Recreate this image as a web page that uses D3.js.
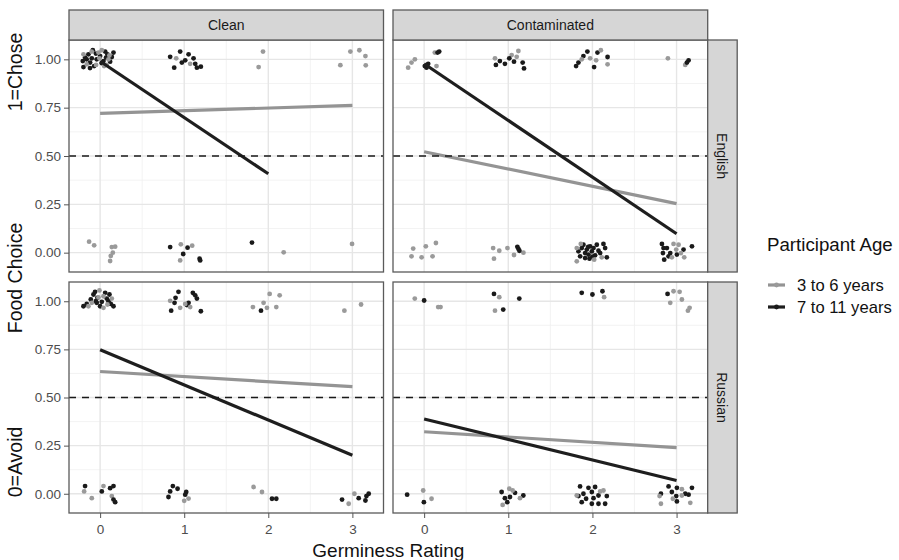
<!DOCTYPE html>
<html><head><meta charset="utf-8">
<script src="https://cdn.jsdelivr.net/npm/d3@7"></script>
<style>body{margin:0;background:#fff}svg{display:block;font-family:"Liberation Sans",Arial,sans-serif}</style>
</head><body><svg id="c" width="899" height="560"></svg>
<script>
// ---- data ----
const conditions = ["Clean", "Contaminated"];
const languages = ["English", "Russian"];
const ageGroups = ["3 to 6 years", "7 to 11 years"];
const xTicks = [0, 1, 2, 3];
const yTicks = [0, 0.25, 0.5, 0.75, 1];
const yTickLabels = ["0.00", "0.25", "0.50", "0.75", "1.00"];
const chanceLevel = 0.5;

// points: [jittered germiness rating, jittered food choice, age group index]
const englishCleanPts = [
 [-0.206,0.991,1],[-0.198,0.960,1],[-0.179,1.009,1],[-0.139,1.026,1],[-0.119,0.983,1],[-0.099,1.005,1],[-0.087,1.047,1],[-0.071,0.965,1],[-0.040,1.0,1],[0.0,1.017,1],[0.040,0.991,1],[0.071,1.009,1],[0.087,1.026,1],[0.119,0.988,1],[0.139,1.012,1],[0.159,1.035,1],[-0.16,1.0,1],[-0.05,1.03,1],[0.06,1.04,1],[0.02,0.98,1],[-0.12,0.955,1],
 [-0.198,1.026,0],[-0.159,0.974,0],[-0.048,0.971,0],[-0.020,1.035,0],[0.020,1.047,0],[0.048,0.965,0],[0.079,0.971,0],[-0.008,1.005,0],[0.099,1.0,0],[-0.10,1.04,0],[0.11,1.02,0],
 [0.833,1.013,1],[0.881,0.957,1],[0.952,1.040,1],[0.972,0.983,1],[1.012,0.995,1],[1.052,1.026,1],[1.111,1.005,1],[1.131,0.977,1],[1.151,0.957,1],[1.198,0.962,1],[0.905,1.005,0],[1.071,0.977,0],
 [1.937,1.04,0],[1.885,0.960,0],
 [2.976,1.04,0],[3.083,1.047,0],[3.155,1.017,0],[2.857,0.97,0],[3.159,0.969,0],
 [-0.131,0.057,0],[-0.071,0.038,0],[0.139,0.029,0],[0.179,0.031,0],[0.151,0.0,0],[0.127,-0.017,0],[0.119,-0.043,0],
 [0.833,0.029,1],[0.960,0.043,0],[1.04,0.026,1],[1.095,0.036,0],[0.988,-0.007,1],[0.952,-0.04,0],[1.183,-0.031,1],[1.19,-0.04,1],
 [1.806,0.052,1],[2.183,0.002,0],
 [2.996,0.045,0]
];
const englishContamPts = [
 [-0.19,0.957,0],[-0.15,0.983,0],[-0.11,1.0,0],[0.127,1.035,0],[0.147,0.965,0],
 [0.008,0.965,1],[0.028,0.957,1],[0.048,0.977,1],[0.179,1.04,1],[0.16,1.035,1],
 [0.842,1.005,0],[1.04,1.022,0],[1.1,1.013,0],[1.12,1.043,0],
 [0.853,0.971,1],[0.9,0.991,1],[0.96,0.977,1],[1.012,1.005,1],[1.068,0.988,1],[1.171,0.983,1],[1.187,0.953,1],
 [1.806,0.965,1],[1.834,0.983,1],[1.893,1.017,1],[1.94,1.04,1],[2.02,0.96,1],[2.06,1.035,1],[2.18,1.012,1],
 [1.973,1.005,0],[2.044,0.995,0],[2.1,1.047,0],[2.18,0.974,0],[1.873,1.0,0],
 [2.897,1.005,0],[3.103,0.971,0],[3.143,0.995,1],[3.123,0.983,1],
 [-0.13,0.021,0],[-0.15,-0.019,0],[-0.03,-0.024,0],[0.02,0.033,0],[0.1,-0.019,0],[0.14,0.05,0],
 [0.82,0.024,0],[0.83,-0.031,0],[0.893,0.01,0],[0.99,0.024,0],[1.068,-0.012,0],[1.18,0.0,0],[1.108,0.03,1],[1.132,0.01,1],[1.12,0.02,1],
 [1.834,0.007,1],[1.854,-0.019,1],[1.873,0.024,1],[1.893,0.041,1],[1.913,-0.002,1],[1.933,0.016,1],[1.953,-0.010,1],[1.973,0.033,1],[1.993,0.007,1],[2.013,0.024,1],[2.032,-0.014,1],[2.052,0.041,1],[2.072,0.010,1],[2.092,-0.002,1],[2.131,0.045,1],[2.151,0.024,1],[2.171,-0.024,1],[1.965,-0.031,1],[1.913,-0.028,1],[1.95,0.03,1],[2.0,-0.02,1],
 [1.814,-0.045,0],[1.862,0.045,0],[2.021,-0.036,0],[2.111,-0.024,0],[1.814,0.024,0],
 [2.826,0.045,1],[2.845,0.024,1],[2.838,-0.002,1],[2.853,-0.036,1],[2.885,0.024,1],[2.925,-0.002,1],[2.905,-0.019,1],[3.004,-0.010,1],[3.183,0.033,1],[3.083,0.016,1],
 [2.964,0.045,0],[2.996,0.016,0],[2.944,-0.024,0],[3.052,-0.002,0],[3.091,-0.024,0],[3.024,0.041,0]
];
const russianCleanPts = [
 [-0.198,0.974,1],[-0.159,0.986,1],[-0.111,1.009,1],[-0.079,1.035,1],[-0.060,1.049,1],[-0.032,1.018,1],[0.0,0.974,1],[0.020,0.997,1],[0.060,1.044,1],[0.079,1.014,1],[0.111,1.035,1],[0.127,0.986,1],[0.159,0.974,1],[-0.040,0.992,1],[-0.05,1.0,1],[0.1,1.0,1],
 [-0.139,0.974,0],[-0.099,0.992,0],[-0.008,1.056,0],[0.040,0.966,0],[0.087,0.983,0],[0.040,1.026,0],[0.139,1.014,0],[-0.02,1.02,0],
 [0.845,0.951,1],[0.885,0.992,1],[0.897,1.018,1],[0.932,1.049,1],[1.032,0.980,1],[1.052,0.992,1],[1.103,1.044,1],[1.151,1.014,1],[1.131,1.031,1],[1.198,0.948,1],
 [0.833,1.002,0],[0.952,0.966,0],[1.071,0.97,0],[1.012,0.986,0],
 [1.817,0.97,0],[1.944,0.992,0],[1.984,0.966,0],[2.016,1.038,0],[2.135,1.031,0],[2.095,0.97,0],[1.913,0.951,1],
 [2.905,0.951,0],[3.103,0.983,0],
 [-0.179,0.040,1],[-0.19,0.012,0],[-0.099,-0.023,0],[0.04,0.040,0],[0.02,0.012,1],[0.119,0.029,1],[0.159,0.040,1],[0.139,-0.012,0],[0.159,-0.03,1],[0.179,-0.044,1],
 [0.865,0.04,1],[0.833,0.012,1],[0.813,-0.017,1],[0.921,0.026,1],[1.024,0.009,1],[1.012,-0.005,1],[1.0,-0.037,0],[1.052,-0.025,0],
 [1.825,0.035,0],[1.925,0.009,0],[2.044,-0.026,1],[2.095,-0.026,1],
 [2.877,-0.03,1],[2.956,-0.052,0],[3.024,0.0,0],[3.075,-0.023,1],[3.155,-0.035,1],[3.194,0.0,1],[3.167,-0.012,1]
];
const russianContamPts = [
 [-0.111,1.014,0],[0.0,1.004,1],[0.167,0.97,0],[0.195,0.97,0],
 [0.83,1.038,1],[0.893,1.021,0],[0.842,0.951,0],[0.94,0.957,1],[1.131,1.014,1],
 [1.873,1.044,1],[2.0,1.035,1],[2.119,1.052,1],[2.139,1.021,0],
 [2.893,1.038,1],[2.964,1.052,0],[3.036,1.049,0],[2.925,0.992,0],[3.063,1.009,0],[3.155,0.966,0],[3.135,0.951,0],
 [-0.202,-0.005,1],[-0.011,0.017,0],[-0.003,-0.044,1],[0.088,-0.026,0],
 [0.921,0.009,1],[0.96,-0.023,1],[0.988,-0.044,1],[1.08,0.005,1],[1.179,-0.009,1],[1.02,-0.017,1],[0.933,-0.058,0],[1.012,0.026,0],[1.052,0.017,0],[1.139,-0.023,0],
 [1.853,0.038,1],[1.953,0.031,1],[2.032,0.035,1],[1.893,0.0,1],[1.834,-0.012,1],[1.993,0.009,1],[2.013,-0.023,1],[2.072,-0.009,1],[2.171,-0.012,1],[1.873,-0.044,1],[1.993,-0.052,1],[2.072,-0.052,1],[2.151,-0.052,1],[1.925,-0.026,1],
 [2.131,0.017,0],[1.814,-0.009,0],[2.092,0.012,0],
 [2.905,0.038,1],[3.004,0.031,1],[3.183,0.031,1],[2.814,0.0,1],[2.944,0.009,1],[2.996,-0.012,1],[3.103,0.0,1],[3.143,-0.005,1],[3.004,-0.040,1],
 [3.063,0.024,0],[2.798,-0.012,0],[2.814,-0.052,0],[2.956,-0.026,0],[3.163,-0.047,0],[3.063,-0.009,0]
];
// fitted lines per age group: [x start, y start, x end, y end]
const englishCleanFit = [[0,0.72,3,0.762],[0,0.99,2,0.408]];
const englishContamFit = [[0,0.522,3,0.254],[0,0.977,3,0.098]];
const russianCleanFit = [[0,0.635,3,0.556],[0,0.748,3,0.2]];
const russianContamFit = [[0,0.322,3,0.24],[0,0.388,3,0.069]];

const panels = [
 {row:0,col:0,pts:englishCleanPts,fit:englishCleanFit},
 {row:0,col:1,pts:englishContamPts,fit:englishContamFit},
 {row:1,col:0,pts:russianCleanPts,fit:russianCleanFit},
 {row:1,col:1,pts:russianContamPts,fit:russianContamFit}
];

// ---- layout ----
const colX = [[69,383.5],[393,707.7]];
const rowY = [[40,272],[282,513]];
const stripTop = 10;
const stripRightW = 29.5;
const ptColor = ["#9a9a9a","#1a1a1a"];
const lineColor = ["#949494","#1e1e1e"];

const svg = d3.select("#c");

panels.forEach(p => {
  const [x0,x1] = colX[p.col], [y0,y1] = rowY[p.row];
  const x = d3.scaleLinear().domain([-0.37,3.37]).range([x0,x1]);
  const y = d3.scaleLinear().domain([-0.1,1.1]).range([y1,y0]);
  const g = svg.append("g");
  g.append("rect").attr("x",x0).attr("y",y0).attr("width",x1-x0).attr("height",y1-y0).attr("fill","#fff");
  const minorX = [-0.5,0.5,1.5,2.5,3.5].filter(v=>v>=-0.37&&v<=3.37);
  const minorY = [0.125,0.375,0.625,0.875];
  g.selectAll(".mx").data(minorX).join("line").attr("x1",d=>x(d)).attr("x2",d=>x(d)).attr("y1",y0).attr("y2",y1).attr("stroke","#f0f0f0").attr("stroke-width",0.8);
  g.selectAll(".my").data(minorY).join("line").attr("y1",d=>y(d)).attr("y2",d=>y(d)).attr("x1",x0).attr("x2",x1).attr("stroke","#f0f0f0").attr("stroke-width",0.8);
  g.selectAll(".gx").data(xTicks).join("line").attr("x1",d=>x(d)).attr("x2",d=>x(d)).attr("y1",y0).attr("y2",y1).attr("stroke","#e6e6e6").attr("stroke-width",1.4);
  g.selectAll(".gy").data(yTicks).join("line").attr("y1",d=>y(d)).attr("y2",d=>y(d)).attr("x1",x0).attr("x2",x1).attr("stroke","#e6e6e6").attr("stroke-width",1.4);
  g.selectAll(".pt").data(p.pts).join("circle")
    .attr("cx",d=>x(d[0])).attr("cy",d=>y(d[1])).attr("r",2.4)
    .attr("fill",d=>ptColor[d[2]]);
  g.selectAll(".fit").data(p.fit).join("line")
    .attr("x1",d=>x(d[0])).attr("y1",d=>y(d[1])).attr("x2",d=>x(d[2])).attr("y2",d=>y(d[3]))
    .attr("stroke",(d,i)=>lineColor[i]).attr("stroke-width",3.2).attr("stroke-linecap","butt");
  g.append("line").attr("x1",x0).attr("x2",x1).attr("y1",y(chanceLevel)).attr("y2",y(chanceLevel))
    .attr("stroke","#1a1a1a").attr("stroke-width",1.3).attr("stroke-dasharray","7,6");
  g.append("rect").attr("x",x0).attr("y",y0).attr("width",x1-x0).attr("height",y1-y0)
    .attr("fill","none").attr("stroke","#5a5a5a").attr("stroke-width",1.3);

  if (p.col===0) {
    const ax = d3.axisLeft(y).tickValues(yTicks).tickFormat((d,i)=>yTickLabels[i]).tickSize(5).tickPadding(3);
    const a = svg.append("g").attr("transform",`translate(${x0},0)`).call(ax);
    a.select(".domain").remove();
    a.selectAll("line").attr("stroke","#555");
    a.selectAll("text").attr("fill","#4d4d4d").attr("font-size","13.5px").attr("font-family","Liberation Sans, Arial, sans-serif");
  }
  if (p.row===1) {
    const ax = d3.axisBottom(x).tickValues(xTicks).tickFormat(d3.format("d")).tickSize(5).tickPadding(6);
    const a = svg.append("g").attr("transform",`translate(0,${y1})`).call(ax);
    a.select(".domain").remove();
    a.selectAll("line").attr("stroke","#555");
    a.selectAll("text").attr("fill","#4d4d4d").attr("font-size","13.5px").attr("font-family","Liberation Sans, Arial, sans-serif");
  }
  if (p.row===0) {
    svg.append("rect").attr("x",x0).attr("y",stripTop).attr("width",x1-x0).attr("height",y0-stripTop)
      .attr("fill","#d6d6d6").attr("stroke","#5a5a5a").attr("stroke-width",1.3);
    svg.append("text").attr("x",(x0+x1)/2).attr("y",(stripTop+y0)/2+5).attr("text-anchor","middle")
      .attr("font-size","14px").attr("fill","#1a1a1a").text(conditions[p.col]);
  }
  if (p.col===1) {
    svg.append("rect").attr("x",x1).attr("y",y0).attr("width",stripRightW).attr("height",y1-y0)
      .attr("fill","#d6d6d6").attr("stroke","#5a5a5a").attr("stroke-width",1.3);
    svg.append("text").attr("transform",`translate(${x1+stripRightW/2-5},${(y0+y1)/2}) rotate(90)`)
      .attr("text-anchor","middle").attr("font-size","14px").attr("fill","#1a1a1a").text(languages[p.row]);
  }
});

svg.append("text").attr("x",(colX[0][0]+colX[1][1])/2).attr("y",557).attr("text-anchor","middle")
  .attr("font-size","19px").attr("fill","#111").text("Germiness Rating");
const yTitleParts = [["1=Chose",72],["Food Choice",278],["0=Avoid",462]];
yTitleParts.forEach(([t,cy]) => {
  svg.append("text").attr("transform",`translate(22,${cy}) rotate(-90)`).attr("text-anchor","middle")
    .attr("font-size","19.5px").attr("fill","#111").text(t);
});

svg.append("text").attr("x",767).attr("y",251).attr("font-size","18.7px").attr("fill","#111").text("Participant Age");
ageGroups.forEach((lab,i) => {
  const cy = 285 + i*22;
  svg.append("line").attr("x1",768).attr("x2",785).attr("y1",cy).attr("y2",cy).attr("stroke",lineColor[i]).attr("stroke-width",3.2);
  svg.append("circle").attr("cx",776.5).attr("cy",cy).attr("r",2.4).attr("fill",ptColor[i]);
  svg.append("text").attr("x",797).attr("y",cy+5.5).attr("font-size","16.6px").attr("fill","#111").text(lab);
});
</script></body></html>
